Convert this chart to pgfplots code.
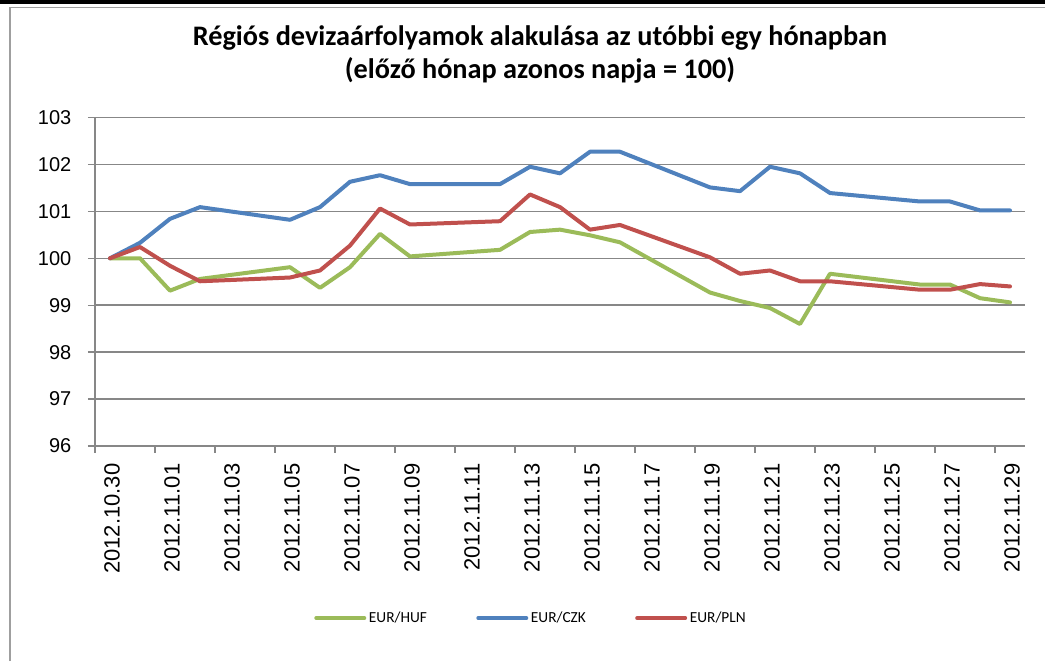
\documentclass[border=0pt]{standalone}
\usepackage{pgfplots}
\pgfplotsset{compat=1.18}
\usepackage{fontspec}
\setmainfont{Carlito}
\newfontfamily\arialf{Liberation Sans}
\definecolor{huf}{HTML}{9BBB59}
\definecolor{czk}{HTML}{4F81BD}
\definecolor{pln}{HTML}{C0504D}
\definecolor{gridc}{HTML}{878787}
\begin{document}
\begin{tikzpicture}
\begin{scope}[x=0.75pt,y=-0.75pt]
\useasboundingbox (0,0) rectangle (1045,661);
\fill[black] (0,0) rectangle (1045,4);
\draw[gridc!80, line width=1.2pt] (10,661) -- (10,7.5) -- (1045,7.5);
\node[font=\bfseries\fontsize{21.2}{25}\selectfont, anchor=base] at (540,45) {Régiós devizaárfolyamok alakulása az utóbbi egy hónapban};
\node[font=\bfseries\fontsize{21.2}{25}\selectfont, anchor=base] at (540,78.3) {(előző hónap azonos napja = 100)};
\end{scope}
\begin{axis}[
  at={(71.25pt,-334.5pt)}, anchor=south west,
  scale only axis, width=697.5pt, height=246.4pt,
  xmin=-0.5, xmax=30.5, ymin=96, ymax=103,
  axis x line*=bottom, axis y line*=left,
  axis line style={-, gridc, line width=1.1pt},
  ytick={96,97,...,103},
  ymajorgrids, major grid style={gridc, line width=1.1pt},
  xtick={0,2,...,30},
  xticklabels={2012.10.30,2012.11.01,2012.11.03,2012.11.05,2012.11.07,2012.11.09,2012.11.11,2012.11.13,2012.11.15,2012.11.17,2012.11.19,2012.11.21,2012.11.23,2012.11.25,2012.11.27,2012.11.29},
  x tick label style={rotate=90, anchor=east, font=\arialf\fontsize{16.5}{16.5}\selectfont, xshift=-4.5pt, yshift=-1.5pt},
  xtick style={draw=none},
  extra x ticks={-0.5,1.5,...,29.5},
  extra x tick labels={},
  extra x tick style={tick style={gridc, line width=1pt}, major tick length=5pt, tick align=outside, xtick style={draw=gridc}},
  y tick label style={font=\arialf\fontsize{15}{15}\selectfont, xshift=-9pt},
  ytick style={gridc, line width=1pt},
  tick align=outside, major tick length=5.25pt,
  /pgf/number format/assume math mode=true,
  legend columns=3,
  legend style={draw=none, at={(0.2355,-0.5236)}, anchor=west, inner sep=0pt,
    font=\fontsize{11.5}{12}\selectfont,
    /tikz/every even column/.append style={column sep=35pt}},
  legend image code/.code={\draw[#1, line cap=round] (0pt,0pt) -- (36pt,0pt);},
  every axis plot/.append style={line width=3pt, line join=round, line cap=round},
  clip=false,
]
\addplot[huf] coordinates {(0,100) (1,100.0) (2,99.31) (3,99.56) (6,99.81) (7,99.37) (8,99.81) (9,100.52) (10,100.04) (13,100.18) (14,100.56) (15,100.61) (16,100.49) (17,100.34) (20,99.27) (21,99.09) (22,98.94) (23,98.60) (24,99.67) (27,99.44) (28,99.44) (29,99.15) (30,99.06)};
\addlegendentry{EUR/HUF}
\addplot[czk] coordinates {(0,100) (1,100.33) (2,100.84) (3,101.09) (6,100.82) (7,101.09) (8,101.63) (9,101.77) (10,101.58) (13,101.58) (14,101.95) (15,101.81) (16,102.27) (17,102.27) (20,101.51) (21,101.43) (22,101.95) (23,101.81) (24,101.39) (27,101.21) (28,101.21) (29,101.02) (30,101.02)};
\addlegendentry{EUR/CZK}
\addplot[pln] coordinates {(0,100) (1,100.24) (2,99.84) (3,99.51) (6,99.59) (7,99.74) (8,100.27) (9,101.06) (10,100.72) (13,100.79) (14,101.36) (15,101.09) (16,100.61) (17,100.71) (20,100.02) (21,99.67) (22,99.74) (23,99.51) (24,99.51) (27,99.33) (28,99.33) (29,99.45) (30,99.40)};
\addlegendentry{EUR/PLN}
\end{axis}
\end{tikzpicture}
\end{document}
